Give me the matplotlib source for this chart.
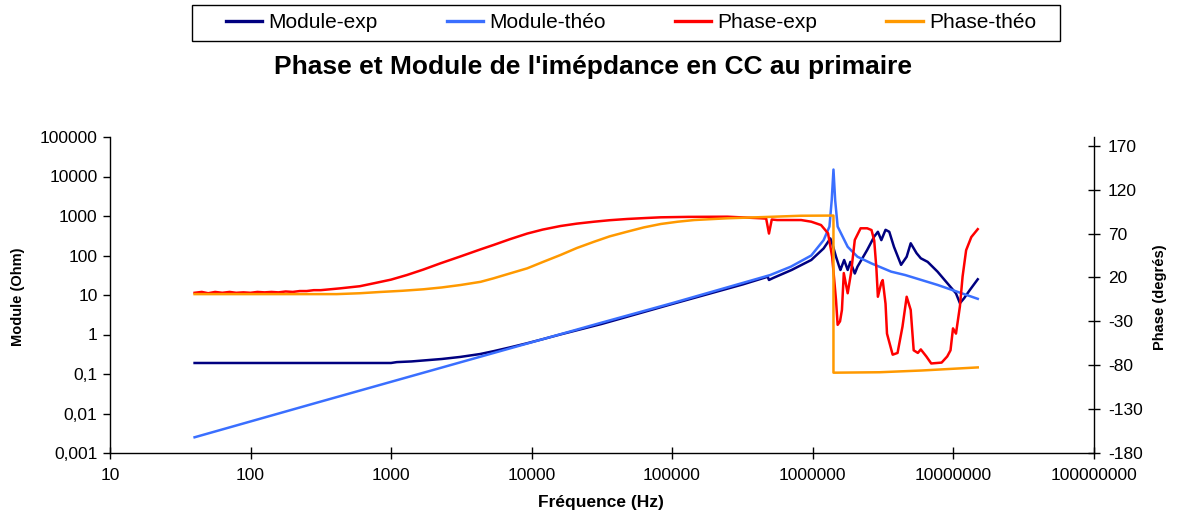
import matplotlib
matplotlib.use("Agg")
import matplotlib.pyplot as plt
from matplotlib.ticker import FixedLocator, FixedFormatter, NullLocator
from matplotlib.lines import Line2D
from matplotlib.patches import Rectangle

plt.rcParams['font.family'] = ['Liberation Sans', 'DejaVu Sans']
plt.rcParams['axes.unicode_minus'] = False

# ---------------- data ----------------
# Module théorique (Ohm) vs fréquence (Hz)
f_mod_theo = [40, 300, 3000, 30000, 1e5, 3e5, 5e5, 7e5, 9.8e5, 1.2e6, 1.32e6,
              1.37e6, 1.41e6, 1.45e6, 1.51e6, 1.78e6, 2.09e6, 2.63e6, 3.63e6,
              4.57e6, 7.76e6, 1.5e7]
mod_theo = [0.0025, 0.019, 0.19, 1.9, 6.2, 19, 32, 52, 100, 245, 540,
            2500, 15000, 2500, 540, 166, 93, 63, 39, 32, 18, 8]

# Module expérimental (Ohm)
f_mod_exp = [40, 1000, 1100, 1400, 1700, 2300, 3100, 4300, 5400, 7000, 9300,
             12000, 16000, 31600, 1e5, 3.2e5, 4.8e5, 4.9e5, 5.25e5, 7.1e5,
             9.8e5, 1.2e6, 1.34e6, 1.38e6, 1.47e6, 1.55e6, 1.58e6, 1.68e6,
             1.78e6, 1.86e6, 2.0e6, 2.09e6, 2.45e6, 2.75e6, 2.92e6, 3.09e6,
             3.31e6, 3.52e6, 3.8e6, 4.27e6, 4.68e6, 5.0e6, 5.5e6, 5.9e6, 6.6e6,
             7.76e6, 9.1e6, 1.05e7, 1.12e7, 1.2e7, 1.32e7, 1.5e7]
mod_exp = [0.19, 0.19, 0.2, 0.208, 0.22, 0.24, 0.27, 0.32, 0.38, 0.47, 0.60,
           0.76, 1.0, 1.85, 5.9, 18.6, 29, 24, 27, 43,
           77, 151, 270, 204, 93, 52, 43, 77,
           43, 69, 35, 52, 138, 302, 398, 245,
           447, 398, 166, 58, 93, 204, 115, 85, 69,
           39, 20, 11, 6.2, 8.3, 13.5, 25]

# Phase expérimentale (degrés)
f_ph_exp = [40, 45, 50, 56, 63, 71, 79, 89, 100, 112, 126, 141, 158, 178, 200,
            224, 251, 282, 316, 436, 600, 753, 1000, 1300, 1700, 2240, 3130,
            4340, 5370, 7000, 9330, 12000, 16100, 21000, 27900, 36000, 47900,
            65000, 83200, 1.3e5, 2.48e5, 4.3e5, 4.68e5, 4.9e5, 5.13e5,
            5.6e5, 8.3e5, 9.8e5, 1.15e6, 1.29e6, 1.38e6, 1.47e6, 1.51e6,
            1.57e6, 1.62e6, 1.67e6, 1.78e6, 1.88e6, 2.0e6, 2.2e6, 2.45e6,
            2.63e6, 2.75e6, 2.85e6, 2.92e6, 3.09e6, 3.16e6, 3.31e6, 3.39e6,
            3.72e6, 4.03e6, 4.37e6, 4.68e6, 5.0e6, 5.25e6, 5.62e6, 5.9e6,
            6.46e6, 7.0e6, 8.3e6, 9.1e6, 9.6e6, 1.0e7, 1.05e7, 1.12e7,
            1.17e7, 1.24e7, 1.35e7, 1.5e7]
ph_exp = [2.5, 3.5, 2, 3.5, 2.5, 3.5, 2.5, 3, 2.5, 3.5, 3, 3.5, 3, 4, 3.5,
          4.5, 4.5, 5.5, 5.5, 7.6, 10, 13.3, 17.5, 22.8, 29, 36, 44,
          52, 57, 63.5, 70, 74.5, 78.6, 81.3, 83.5, 85.2, 86.6,
          87.7, 88.5, 89, 89.2, 87.4, 87, 70, 86,
          85.4, 85.4, 83.5, 79.7, 70.3, 43.6, -5.7, -34,
          -30, -17, 25, 2, 25, 62.7, 76, 76,
          74, 62, 30, -2, 14, 17, -10, -44,
          -68, -66, -36, -2, -17, -63, -66, -62,
          -70, -78, -77, -70, -63, -38, -44, -13,
          21, 51, 66, 75]

# Phase théorique (degrés)
f_ph_theo = [40, 410, 600, 830, 1200, 1700, 2300, 3130, 4340, 5370, 7000, 9330,
             12000, 16100, 21000, 27900, 36000, 47900, 63000, 83200, 1.1e5,
             1.44e5, 2.48e5, 4.5e5, 8.3e5, 1.41e6, 1.41e6, 3.0e6, 6.0e6, 1.5e7]
ph_theo = [1, 1, 2, 3.4, 4.8, 6.5, 8.6, 11.4, 15, 19, 24.5, 30.4,
           37.5, 45.6, 53.5, 60.7, 66.8, 72.1, 77, 80.9, 83.5,
           85.4, 87.4, 88.8, 90.3, 90.5, -88.5, -88, -86, -82.5]

freq_ticks = [10, 100, 1000, 10000, 100000, 1000000, 10000000, 100000000]
freq_labels = ["10", "100", "1000", "10000", "100000", "1000000",
               "10000000", "100000000"]
mod_ticks = [0.001, 0.01, 0.1, 1, 10, 100, 1000, 10000, 100000]
mod_labels = ["0,001", "0,01", "0,1", "1", "10", "100", "1000", "10000", "100000"]
phase_ticks = [-180, -130, -80, -30, 20, 70, 120, 170]

series_names = ["Module-exp", "Module-théo", "Phase-exp", "Phase-théo"]
colors = ["#000080", "#3A6FFF", "#FF0000", "#FF9900"]

# ---------------- figure ----------------
W, H = 1177, 517
fig = plt.figure(figsize=(W / 100, H / 100), dpi=100)
left, right, top, bottom = 110, 1093.5, 137, 453
ax = fig.add_axes([left / W, 1 - bottom / H, (right - left) / W, (bottom - top) / H])
ax2 = ax.twinx()

lw = 1.8
ax.plot(f_mod_exp, mod_exp, color=colors[0], lw=lw)
ax.plot(f_mod_theo, mod_theo, color=colors[1], lw=lw)
ax2.plot(f_ph_exp, ph_exp, color=colors[2], lw=lw)
ax2.plot(f_ph_theo, ph_theo, color=colors[3], lw=lw)

ax.set_xscale("log")
ax.set_yscale("log")
ax.set_xlim(10, 1e8)
ax.set_ylim(1e-3, 1e5)
ax2.set_ylim(-180, 180)

tick_fs = 12.5
ax.xaxis.set_major_locator(FixedLocator(freq_ticks))
ax.xaxis.set_major_formatter(FixedFormatter(freq_labels))
ax.xaxis.set_minor_locator(NullLocator())
ax.yaxis.set_major_locator(FixedLocator(mod_ticks))
ax.yaxis.set_major_formatter(FixedFormatter(mod_labels))
ax.yaxis.set_minor_locator(NullLocator())
ax2.set_yticks(phase_ticks)
ax2.yaxis.set_minor_locator(NullLocator())

ax.tick_params(axis="x", direction="inout", length=8, width=1, labelsize=tick_fs, pad=7)
ax.tick_params(axis="y", direction="out", length=5, width=1, labelsize=tick_fs, pad=4)
ax2.tick_params(axis="y", direction="inout", length=9, width=1, labelsize=tick_fs, pad=6)

for a in (ax, ax2):
    a.spines["top"].set_visible(False)
ax.spines["right"].set_visible(False)
ax2.spines["left"].set_visible(False)
ax2.spines["bottom"].set_visible(False)
for s in ("left", "bottom"):
    ax.spines[s].set_linewidth(1.0)
ax2.spines["right"].set_linewidth(1.0)

fig.text(593 / W, 1 - 67 / H, "Phase et Module de l'imépdance en CC au primaire",
         ha="center", va="center", fontsize=19, fontweight="bold")
fig.text(601 / W, 1 - 503 / H, "Fréquence (Hz)", ha="center", va="center",
         fontsize=12.5, fontweight="bold")
fig.text(18 / W, 1 - 297 / H, "Module (Ohm)", ha="center", va="center",
         rotation=90, fontsize=10.5, fontweight="bold")
fig.text(1160 / W, 1 - 297 / H, "Phase (degrés)", ha="center", va="center",
         rotation=90, fontsize=10.5, fontweight="bold")

# legend: entries spread over the inner band, frame drawn as its own box
handles = [Line2D([], [], color=c, lw=2.4) for c in colors]
leg = fig.legend(handles, series_names, loc="center",
                 bbox_to_anchor=(226 / W, 1 - 40 / H, 810 / W, 35 / H),
                 mode="expand", ncol=4, frameon=False, borderaxespad=0,
                 handlelength=1.75, handletextpad=0.3, fontsize=15,
                 borderpad=0.0)
fig.patches.append(Rectangle((192 / W, 1 - 41 / H), 868 / W, 36 / H,
                             transform=fig.transFigure, fill=False,
                             edgecolor="black", linewidth=1.0))

fig.savefig("out.png", dpi=100)
